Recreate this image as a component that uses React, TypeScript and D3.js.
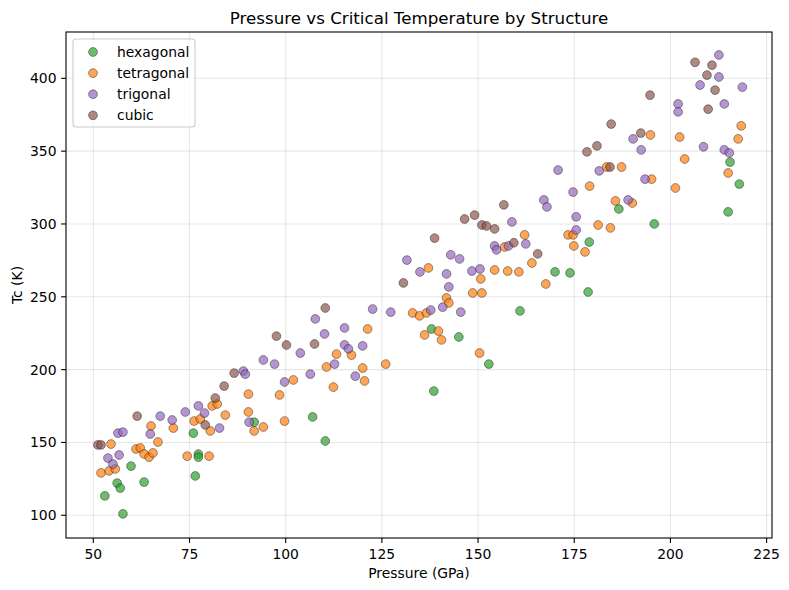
import * as d3 from "d3"

// [pressure GPa, Tc K]
const hexagonal: [number, number][] = [
  [53.0, 113.3], [57.7, 101.0], [56.2, 122.1], [57.0, 118.7], [63.2, 122.8], [59.8, 133.8],
  [76.5, 127.0], [77.3, 142.0], [77.3, 139.9], [76.0, 156.4], [91.8, 163.9], [107.0, 167.5],
  [110.3, 151.0], [138.5, 185.3], [137.9, 227.9], [145.0, 222.4], [152.8, 203.8], [160.9, 240.3],
  [170.0, 267.1], [173.9, 266.4], [178.6, 253.3], [178.9, 287.6], [186.6, 310.3], [195.8, 300.0],
  [215.0, 308.3], [217.9, 327.4], [215.5, 342.5],
]

const tetragonal: [number, number][] = [
  [52.0, 129.1], [54.1, 130.5], [55.7, 131.8], [54.6, 148.9], [61.1, 145.5], [62.2, 146.2],
  [63.2, 142.1], [64.5, 139.9], [65.5, 142.8], [65.0, 161.3], [66.8, 150.3], [70.8, 159.9],
  [74.4, 140.6], [76.2, 164.7], [77.8, 166.1], [80.1, 140.6], [80.4, 157.9], [80.9, 175.1],
  [82.2, 176.4], [84.3, 168.8], [90.3, 183.2], [90.3, 170.9], [91.8, 157.9], [94.2, 160.6],
  [99.7, 164.7], [98.4, 182.6], [102.0, 192.9], [112.4, 188.0], [110.6, 201.8], [113.2, 210.7],
  [117.1, 210.0], [121.3, 227.9], [120.0, 201.1], [120.5, 192.2], [126.0, 203.8], [133.0, 238.9],
  [134.8, 236.9], [136.6, 238.9], [137.1, 269.8], [136.1, 223.8], [139.7, 226.5], [140.5, 220.4],
  [141.8, 249.2], [142.4, 245.8], [148.6, 252.6], [151.0, 252.6], [150.7, 262.3], [150.4, 211.4],
  [154.3, 268.4], [157.7, 267.7], [160.6, 267.1], [156.9, 284.2], [162.1, 292.5], [164.0, 273.2],
  [167.6, 258.8], [173.4, 292.5], [174.7, 292.5], [174.9, 284.9], [177.8, 280.8], [181.2, 299.3],
  [184.4, 297.3], [185.7, 315.8], [190.1, 314.4], [179.0, 326.0], [183.4, 339.1], [187.3, 339.1],
  [195.1, 330.8], [201.3, 324.7], [194.8, 361.1], [202.4, 359.7], [203.7, 344.6], [215.0, 335.0],
  [217.6, 358.4], [218.4, 367.4],
]

const trigonal: [number, number][] = [
  [53.8, 139.3], [56.7, 141.4], [55.1, 135.2], [56.4, 156.4], [57.7, 157.1], [64.8, 155.8],
  [67.4, 168.1], [70.5, 165.4], [73.9, 170.9], [77.3, 175.1], [78.9, 170.2], [82.8, 159.9],
  [90.5, 163.9], [89.0, 199.0], [89.5, 196.9], [94.2, 206.6], [97.1, 203.8], [99.7, 191.5],
  [103.8, 211.4], [106.4, 196.9], [107.7, 234.8], [110.1, 224.5], [112.7, 203.8], [115.3, 228.6],
  [115.3, 217.0], [116.3, 214.3], [120.0, 216.3], [118.1, 195.5], [122.6, 241.6], [127.3, 239.5],
  [131.5, 275.2], [134.9, 267.1], [137.7, 240.9], [140.8, 242.9], [145.5, 239.5], [142.4, 256.8],
  [141.8, 265.7], [142.9, 278.8], [145.2, 276.0], [148.4, 267.7], [150.5, 269.1], [154.3, 284.9],
  [154.8, 282.2], [157.9, 284.9], [162.4, 286.3], [158.8, 301.4], [167.1, 316.5], [167.9, 311.7],
  [170.8, 337.0], [174.7, 321.9], [175.5, 304.9], [175.5, 295.9], [181.5, 336.4], [189.0, 316.5],
  [193.4, 330.8], [190.3, 358.4], [192.4, 350.9], [208.6, 353.0], [214.0, 350.9], [215.3, 348.8],
  [202.0, 382.4], [202.0, 377.0], [214.0, 382.4], [207.7, 395.4], [218.7, 394.0], [212.6, 400.9],
  [212.6, 416.0],
]

const cubic: [number, number][] = [
  [51.2, 148.3], [52.0, 148.3], [61.4, 168.1], [79.1, 162.0], [81.7, 180.5], [84.0, 188.7],
  [86.6, 197.6], [97.6, 223.0], [100.2, 216.9], [107.5, 217.6], [110.3, 242.3], [130.6, 259.5],
  [138.7, 290.3], [146.5, 303.4], [149.1, 306.1], [151.0, 299.3], [152.2, 298.6], [154.3, 296.6],
  [156.7, 313.1], [159.3, 287.1], [165.5, 279.5], [178.3, 349.5], [180.9, 353.6], [184.3, 339.1],
  [184.6, 368.6], [192.3, 362.4], [194.7, 388.4], [209.8, 378.8], [211.6, 391.9], [209.5, 402.2],
  [210.8, 409.0], [206.4, 411.0],
]

const series = [
  { name: "hexagonal", color: "#2ca02c", points: hexagonal },
  { name: "tetragonal", color: "#ff7f0e", points: tetragonal },
  { name: "trigonal", color: "#9467bd", points: trigonal },
  { name: "cubic", color: "#8c564b", points: cubic },
]

const xTicks = [50, 75, 100, 125, 150, 175, 200, 225]
const yTicks = [100, 150, 200, 250, 300, 350, 400]

const W = 789
const H = 590
const FONT = "DejaVu Sans, sans-serif"

export default function App() {
  const left = 66
  const right = 772
  const top = 32
  const bottom = 538

  const x = d3.scaleLinear().domain([42.9, 226.4]).range([left, right])
  const y = d3.scaleLinear().domain([84.4, 431.8]).range([bottom, top])

  return (
    <svg
      width={W}
      height={H}
      style={{ position: "absolute", left: 0, top: 0, background: "white" }}
      fontFamily={FONT}
    >
      <rect x={0} y={0} width={W} height={H} fill="white" />

      {/* grid */}
      <g stroke="#b0b0b0" strokeOpacity={0.3} strokeWidth={1.1}>
        {xTicks.map((t) => (
          <line key={"gx" + t} x1={x(t)} x2={x(t)} y1={top} y2={bottom} />
        ))}
        {yTicks.map((t) => (
          <line key={"gy" + t} x1={left} x2={right} y1={y(t)} y2={y(t)} />
        ))}
      </g>

      {/* points */}
      {series.map((s) => (
        <g key={s.name}>
          {s.points.map((d, i) => (
            <circle
              key={i}
              cx={x(d[0])}
              cy={y(d[1])}
              r={4.4}
              fill={s.color}
              fillOpacity={0.7}
              stroke="#000"
              strokeOpacity={0.55}
              strokeWidth={0.7}
            />
          ))}
        </g>
      ))}

      {/* frame */}
      <rect x={left} y={top} width={right - left} height={bottom - top} fill="none" stroke="#000" strokeWidth={1.1} />

      {/* x axis */}
      {xTicks.map((t) => (
        <g key={"xt" + t}>
          <line x1={x(t)} x2={x(t)} y1={bottom} y2={bottom + 4.9} stroke="#000" strokeWidth={1.1} />
          <text x={x(t)} y={bottom + 20.5} textAnchor="middle" fontSize={13.9} fill="#000">
            {t}
          </text>
        </g>
      ))}
      {yTicks.map((t) => (
        <g key={"yt" + t}>
          <line x1={left - 4.9} x2={left} y1={y(t)} y2={y(t)} stroke="#000" strokeWidth={1.1} />
          <text x={left - 9.5} y={y(t) + 5} textAnchor="end" fontSize={13.9} fill="#000">
            {t}
          </text>
        </g>
      ))}

      <text x={(left + right) / 2} y={578} textAnchor="middle" fontSize={13.9} fill="#000">
        Pressure (GPa)
      </text>
      <text
        transform={`translate(22,${(top + bottom) / 2}) rotate(-90)`}
        textAnchor="middle"
        fontSize={13.9}
        fill="#000"
      >
        Tc (K)
      </text>
      <text x={(left + right) / 2} y={24} textAnchor="middle" fontSize={16.7} fill="#000">
        Pressure vs Critical Temperature by Structure
      </text>

      {/* legend */}
      <g>
        <rect x={73} y={39} width={122} height={88} rx={3} fill="white" fillOpacity={0.8} stroke="#cccccc" strokeWidth={1.1} />
        {series.map((s, i) => (
          <g key={"lg" + s.name} transform={`translate(0,${52 + i * 21.1})`}>
            <circle cx={93} cy={0} r={4.4} fill={s.color} fillOpacity={0.7} stroke="#000" strokeOpacity={0.55} strokeWidth={0.7} />
            <text x={117} y={5} fontSize={13.9} fill="#000">
              {s.name}
            </text>
          </g>
        ))}
      </g>
    </svg>
  )
}
